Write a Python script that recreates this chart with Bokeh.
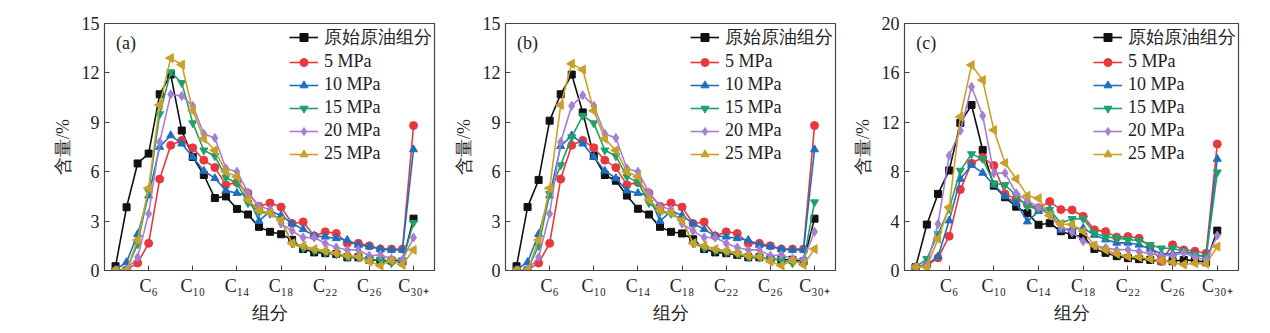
import numpy as np
from bokeh.plotting import figure
from bokeh.layouts import row
from bokeh.models import FixedTicker, Range1d, Label
from bokeh.embed import file_html
from bokeh.resources import INLINE

carbon = list(range(3, 31))
tick_pos = [6, 10, 14, 18, 22, 26, 30]
tick_labels = ["C\u2086", "C\u2081\u2080", "C\u2081\u2084", "C\u2081\u2088", "C\u2082\u2082", "C\u2082\u2086", "C\u2083\u2080\u208a"]
series_names = ["原始原油组分", "5 MPa", "10 MPa", "15 MPa", "20 MPa", "25 MPa"]

a_orig = [0.26, 3.84, 6.5, 7.1, 10.7, 11.9, 8.5, 6.9, 5.8, 4.4, 4.5, 3.74, 3.4, 2.65, 2.35, 2.2, 1.86, 1.3, 1.1, 1.05, 1.0, 0.8, 0.8, 0.65, 0.6, 0.6, 0.55, 3.15]
a_5 = [0.0, 0.05, 0.45, 1.65, 5.55, 7.6, 7.9, 7.45, 6.7, 6.25, 5.2, 5.35, 4.7, 3.9, 4.1, 3.85, 2.85, 2.95, 2.1, 2.35, 2.25, 1.65, 1.65, 1.5, 1.3, 1.3, 1.3, 8.8]
a_10 = [0.05, 0.5, 2.2, 4.55, 7.5, 8.2, 7.7, 6.9, 6.05, 5.6, 4.85, 4.7, 4.55, 3.0, 3.6, 3.35, 2.85, 2.5, 2.1, 2.05, 1.95, 1.85, 1.55, 1.45, 1.3, 1.25, 1.25, 7.35]
a_15 = [0.0, 0.05, 1.6, 4.8, 9.5, 12.05, 11.4, 8.95, 7.3, 6.95, 5.65, 5.3, 4.1, 3.55, 3.45, 3.05, 1.65, 1.35, 1.2, 1.1, 1.0, 0.8, 0.8, 0.65, 0.65, 0.45, 0.6, 2.9]
a_20 = [0.0, 0.05, 0.8, 3.45, 7.8, 10.7, 10.6, 10.0, 8.3, 8.05, 6.2, 6.0, 4.75, 3.9, 3.7, 2.85, 2.4, 2.0, 2.0, 1.65, 1.4, 1.25, 1.25, 0.9, 0.95, 0.7, 0.65, 2.0]
a_25 = [0.0, 0.0, 1.85, 5.0, 10.05, 12.9, 12.5, 9.7, 8.0, 7.3, 6.0, 5.7, 4.3, 3.65, 3.5, 3.05, 1.65, 1.5, 1.3, 1.2, 1.05, 0.9, 0.85, 0.55, 0.3, 0.6, 0.35, 1.25]

b_orig = [0.26, 3.85, 5.5, 9.1, 10.7, 11.9, 9.6, 6.95, 5.8, 5.45, 4.55, 3.75, 3.4, 2.65, 2.35, 2.25, 1.9, 1.3, 1.1, 1.05, 0.95, 0.8, 0.8, 0.7, 0.65, 0.65, 0.55, 3.15]
b_5 = [0.0, 0.05, 0.45, 1.65, 5.55, 7.6, 7.9, 7.45, 6.7, 6.25, 5.2, 5.35, 4.7, 3.9, 4.1, 3.85, 2.85, 2.95, 2.1, 2.35, 2.25, 1.65, 1.65, 1.5, 1.3, 1.3, 1.3, 8.8]
b_10 = [0.05, 0.5, 2.2, 4.55, 7.55, 8.2, 7.7, 6.9, 6.05, 5.6, 4.85, 4.7, 4.55, 3.0, 3.6, 3.35, 2.85, 2.5, 2.1, 2.05, 1.95, 1.85, 1.55, 1.45, 1.3, 1.25, 1.25, 7.35]
b_15 = [0.0, 0.05, 1.5, 4.65, 6.4, 8.1, 9.4, 8.95, 7.3, 6.95, 5.7, 5.35, 4.1, 3.55, 3.45, 3.05, 1.65, 1.35, 1.2, 1.1, 1.0, 0.8, 0.8, 0.65, 0.65, 0.45, 0.6, 4.15]
b_20 = [0.0, 0.05, 0.8, 3.45, 7.8, 10.0, 10.65, 10.0, 8.3, 8.05, 6.2, 6.0, 4.75, 3.9, 3.7, 2.85, 2.4, 2.0, 2.0, 1.65, 1.4, 1.25, 1.25, 0.9, 0.95, 0.7, 0.65, 2.35]
b_25 = [0.0, 0.0, 1.85, 5.0, 10.05, 12.55, 12.2, 9.7, 8.0, 7.3, 6.0, 5.7, 4.3, 3.65, 3.5, 3.05, 1.65, 1.5, 1.3, 1.2, 1.05, 0.9, 0.85, 0.55, 0.3, 0.6, 0.35, 1.3]

c_orig = [0.27, 3.72, 6.2, 8.1, 11.95, 13.4, 9.76, 6.87, 5.93, 5.17, 4.64, 3.7, 3.83, 3.18, 2.88, 2.75, 1.75, 1.43, 1.16, 1.0, 0.92, 0.86, 0.75, 0.75, 0.86, 0.8, 0.67, 3.23]
c_5 = [0.27, 0.4, 1.02, 2.78, 6.55, 8.68, 9.16, 8.5, 6.2, 5.8, 5.34, 5.07, 5.58, 4.93, 4.9, 4.39, 3.29, 3.15, 2.7, 2.75, 2.61, 1.94, 0.75, 2.08, 1.67, 1.56, 1.4, 10.24]
c_10 = [0.27, 0.5, 1.13, 4.04, 7.41, 8.54, 7.9, 6.95, 6.0, 5.47, 3.96, 4.8, 4.9, 3.29, 3.37, 3.42, 2.88, 2.5, 2.24, 2.24, 2.08, 1.75, 1.35, 1.35, 1.56, 1.29, 1.13, 9.03]
c_15 = [0.27, 0.94, 2.96, 4.99, 8.09, 9.43, 9.03, 7.06, 6.93, 6.06, 5.17, 4.99, 4.93, 3.83, 4.18, 4.18, 3.05, 2.7, 2.64, 2.5, 2.43, 2.08, 1.8, 1.8, 1.56, 1.27, 1.08, 7.95]
c_20 = [0.27, 0.4, 3.77, 9.3, 11.32, 14.88, 12.53, 7.87, 7.9, 6.25, 5.66, 5.12, 4.45, 3.5, 3.1, 2.37, 2.02, 1.83, 1.67, 1.7, 1.54, 1.35, 1.21, 1.21, 1.43, 1.08, 0.86, 2.83]
c_25 = [0.27, 0.27, 2.56, 5.12, 12.45, 16.63, 15.42, 11.37, 8.7, 7.41, 6.06, 5.85, 4.45, 3.77, 3.72, 3.18, 2.02, 1.67, 1.35, 1.13, 1.08, 0.94, 0.81, 0.67, 0.49, 0.59, 0.54, 1.94]

colors = ["#111111", "#e8383d", "#1f6fc0", "#20a06a", "#a57fd2", "#c9a02a"]
markers = ["square", "circle", "triangle", "inverted_triangle", "diamond", "triangle"]
angles = [0, 0, 0, 0, 0, np.pi / 2]
sizes = [7, 8, 8, 8, 9, 9]

FONT = "Liberation Serif"
FS = "18px"


def panel(tag, ymax, yticks, data, width, left, right, tag_y):
    p = figure(width=width, height=333, x_range=Range1d(2.0, 31.9), y_range=Range1d(0, ymax),
               output_backend="svg", toolbar_location=None,
               min_border_left=left, min_border_right=right, min_border_top=23, min_border_bottom=63)
    p.grid.visible = False
    p.outline_line_color = "#444444"
    p.outline_line_width = 1.2
    p.background_fill_color = "white"
    p.border_fill_color = "white"
    for name, ys, col, mk, ang, sz in zip(series_names, data, colors, markers, angles, sizes):
        p.line(carbon, ys, line_color=col, line_width=1.6, legend_label=name)
        p.scatter(carbon, ys, marker=mk, size=sz, angle=ang, fill_color=col, line_color=col, legend_label=name)
    p.xaxis.ticker = FixedTicker(ticks=tick_pos)
    p.xaxis.major_label_overrides = {t: l for t, l in zip(tick_pos, tick_labels)}
    p.yaxis.ticker = FixedTicker(ticks=yticks)
    for ax in (p.xaxis[0], p.yaxis[0]):
        ax.major_tick_in = 5
        ax.major_tick_out = 0
        ax.minor_tick_in = 0
        ax.minor_tick_out = 0
        ax.axis_line_color = "#444444"
        ax.major_tick_line_color = "#444444"
        ax.major_label_text_font = FONT
        ax.major_label_text_font_size = FS
        ax.major_label_text_color = "#222222"
        ax.axis_label_text_font = FONT
        ax.axis_label_text_font_size = FS
        ax.axis_label_text_font_style = "normal"
        ax.axis_label_text_color = "#222222"
        ax.major_label_standoff = 5
    p.xaxis.axis_label = "组分"
    p.yaxis.axis_label = "含量/%"
    p.xaxis.axis_label_standoff = 4
    p.yaxis.axis_label_standoff = 6
    lg = p.legend[0]
    lg.location = "top_right"
    lg.border_line_alpha = 0
    lg.background_fill_alpha = 0
    lg.label_text_font = FONT
    lg.label_text_font_size = FS
    lg.label_text_color = "#222222"
    lg.glyph_width = 29
    lg.glyph_height = 20
    lg.label_height = 20
    lg.spacing = 2
    lg.padding = 2
    lg.margin = 0
    lg.label_standoff = 6
    p.add_layout(Label(x=3.05, y=tag_y, text=tag, text_font=FONT, text_font_size=FS,
                       text_baseline="middle", text_color="#222222"))
    return p


pa = panel("(a)", 15, [0, 3, 6, 9, 12, 15], [a_orig, a_5, a_10, a_15, a_20, a_25], 440, 104, 6, 13.8)
pb = panel("(b)", 15, [0, 3, 6, 9, 12, 15], [b_orig, b_5, b_10, b_15, b_20, b_25], 400, 65, 5, 13.8)
pc = panel("(c)", 20, [0, 4, 8, 12, 16, 20], [c_orig, c_5, c_10, c_15, c_20, c_25], 430, 64, 32, 18.4)

layout = row(pa, pb, pc)
open("out.html", "w").write(file_html(layout, INLINE))
